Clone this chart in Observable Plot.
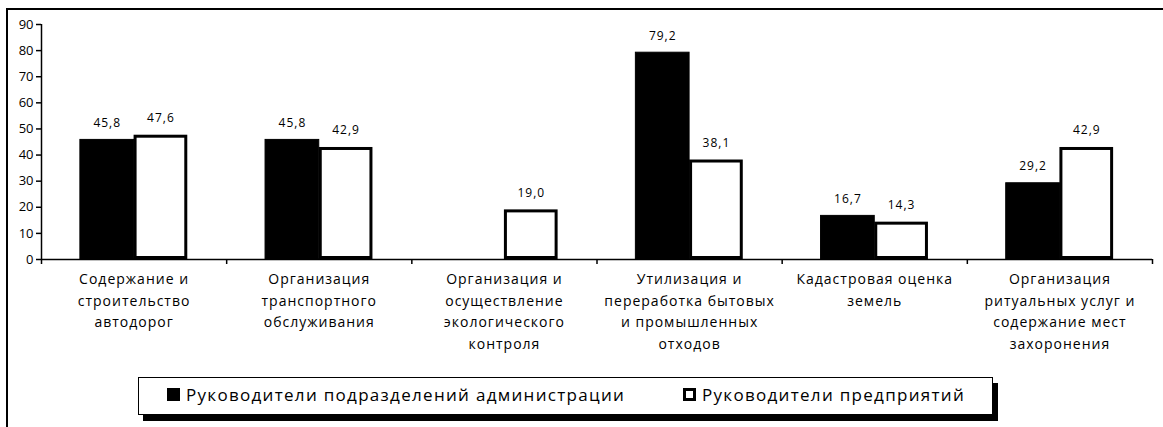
<!DOCTYPE html>
<html>
<head>
<meta charset="utf-8">
<script src="https://cdn.jsdelivr.net/npm/d3@7"></script>
<script src="https://cdn.jsdelivr.net/npm/@observablehq/plot@0.6"></script>
<style>
  html, body { margin: 0; padding: 0; background: #fff; }
  #wrap { position: relative; width: 1163px; height: 427px; overflow: hidden; font-family: "Open Sans", sans-serif; }
  #frame { position: absolute; left: 6px; top: 8px; width: 1200px; height: 500px; border-left: 2px solid #000; border-top: 2px solid #000; }
  #chart { position: absolute; left: 0; top: 0; }
  #legend { position: absolute; left: 138px; top: 377px; width: 853px; height: 36px; border: 1px solid #000; background: #fff;
            box-shadow: 5px 6px 0 #000; font-size: 17px; letter-spacing: 1.3px; color: #000; }
  .item { display: flex; align-items: center; position: absolute; top: 5px; }
  .sw { width: 13px; height: 13px; margin-right: 6px; box-sizing: border-box; }
</style>
</head>
<body>
<div id="wrap">
  <div id="frame"></div>
  <div id="chart"></div>
  <div id="legend"></div>
</div>
<script>
const categories = [
  "Содержание и\nстроительство\nавтодорог",
  "Организация\nтранспортного\nобслуживания",
  "Организация и\nосуществление\nэкологического\nконтроля",
  "Утилизация и\nпереработка бытовых\nи промышленных\nотходов",
  "Кадастровая оценка\nземель",
  "Организация\nритуальных услуг и\nсодержание мест\nзахоронения"
];
const seriesNames = ["Руководители подразделений администрации", "Руководители предприятий"];
const seriesAdmin = [45.8, 45.8, null, 79.2, 16.7, 29.2];
const seriesEnterprise = [47.6, 42.9, 19.0, 38.1, 14.3, 42.9];
const yTicks = [0, 10, 20, 30, 40, 50, 60, 70, 80, 90];

const half = 0.29;
const rows = [];
categories.forEach((c, i) => {
  if (seriesAdmin[i] != null) rows.push({i, s: 0, v: seriesAdmin[i], x1: i + 0.5 - half, x2: i + 0.5});
  if (seriesEnterprise[i] != null) rows.push({i, s: 1, v: seriesEnterprise[i], x1: i + 0.5, x2: i + 0.5 + half});
});
const fmt = v => v.toFixed(1).replace(".", ",");

const chart = Plot.plot({
  width: 1163,
  height: 427,
  marginLeft: 41,
  marginRight: 11,
  marginTop: 24,
  marginBottom: 168,
  style: {fontFamily: "Open Sans, sans-serif", color: "#000", background: "transparent"},
  x: {domain: [0, categories.length], axis: null},
  y: {domain: [0, 90], axis: null},
  marks: [
    Plot.rectY(rows.filter(d => d.s === 0), {x1: "x1", x2: "x2", y1: 0, y2: "v", fill: "#000", stroke: "#000", strokeWidth: 1}),
    Plot.rectY(rows.filter(d => d.s === 1), {x1: "x1", x2: "x2", y1: 0, y2: "v", fill: "#fff", stroke: "#000", strokeWidth: 3, inset: 1.5}),
    Plot.text(rows, {x: d => (d.x1 + d.x2) / 2, y: "v", text: d => fmt(d.v), dy: -17, fontSize: 12, fill: "#000"}),
    Plot.ruleY([0], {stroke: "#000", strokeWidth: 1.5}),
    Plot.ruleX([0], {y1: 0, y2: 90, stroke: "#000", strokeWidth: 1.5}),
    Plot.axisY({ticks: yTicks, tickSize: 5, tickPadding: 3, fontSize: 13, strokeWidth: 1.5, label: null}),
    Plot.axisX({ticks: d3.range(0, categories.length + 1), tickFormat: () => "", tickSize: 5, strokeWidth: 1.5, label: null}),
    Plot.text(categories, {x: (d, i) => i + 0.5, y: 0, text: d => d, lineAnchor: "top", dy: 9, lineHeight: 1.55, fontSize: 14, fill: "#000"})
  ]
});
chart.querySelectorAll("text").forEach(t => {
  if (t.closest("g[aria-label='text']")) t.style.letterSpacing = "1px";
});
document.getElementById("chart").appendChild(chart);

const legend = document.getElementById("legend");
const item1 = document.createElement("div");
item1.className = "item"; item1.style.left = "28px";
item1.innerHTML = `<div class="sw" style="background:#000"></div><span>${seriesNames[0]}</span>`;
const item2 = document.createElement("div");
item2.className = "item"; item2.style.left = "544px";
item2.innerHTML = `<div class="sw" style="background:#fff;border:3px solid #000"></div><span>${seriesNames[1]}</span>`;
legend.appendChild(item1); legend.appendChild(item2);
</script>
</body>
</html>
